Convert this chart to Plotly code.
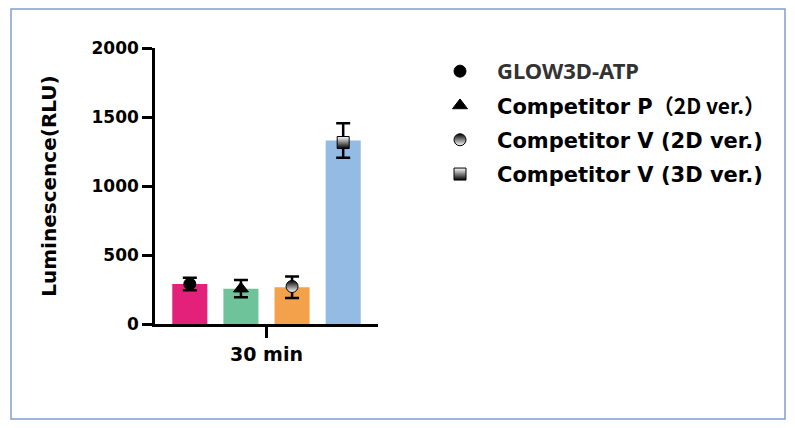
import plotly.graph_objects as go

categories = ["30 min"]
series_names = [
    "GLOW3D-ATP",
    "Competitor P（2D ver.）",
    "Competitor V (2D ver.)",
    "Competitor V (3D ver.)",
]
means = [290, 256, 266, 1330]
errors = [45, 63, 78, 125]
point_values = [290, 256, 272, 1315]
bar_colors = ["#E4217A", "#6EC39B", "#F4A14B", "#93BBE4"]
symbols = ["circle", "triangle-up", "circle", "square"]
y_ticks = [0, 500, 1000, 1500, 2000]

legend_labels = [
    '<span style="font-family:Noto Sans;font-size:22px;color:#333333">GLOW3D-ATP</span>',
    'Competitor P<span style="font-family:Noto Sans CJK SC;font-weight:bold;font-size:21px">（2D ver.）</span>',
    'Competitor V (2D ver.)',
    'Competitor V (3D ver.)',
]

FONT = "DejaVu Sans"
fig = go.Figure()

for i in range(4):
    fig.add_trace(go.Bar(
        x=categories, y=[means[i]],
        marker=dict(color=bar_colors[i], line=dict(width=0)),
        error_y=dict(type="data", array=[errors[i]], color="black", thickness=2.5, width=7),
        offsetgroup=str(i), alignmentgroup="a",
        showlegend=False, hoverinfo="skip",
    ))

for i in range(4):
    marker = dict(symbol=symbols[i], size=12 if i != 1 else 13, color="black",
                  line=dict(color="black", width=1))
    if i == 2:
        marker["color"] = "black"
        marker["gradient"] = dict(type="vertical", color="white")
    if i == 3:
        marker["color"] = "white"
        marker["gradient"] = dict(type="vertical", color="black")
    fig.add_trace(go.Scatter(
        x=categories, y=[point_values[i]], mode="markers",
        marker=marker, name=legend_labels[i],
        offsetgroup=str(i), alignmentgroup="a",
        legendgroup=str(i),
    ))

fig.update_layout(
    width=795, height=428,
    margin=dict(l=155, r=417, t=48, b=104, autoexpand=False),
    paper_bgcolor="white", plot_bgcolor="white",
    barmode="group", bargap=0.083, bargroupgap=0.314,
    scattermode="group", scattergap=0.083,
    font=dict(family=FONT, color="black"),
    showlegend=True,
    legend=dict(
        xref="container", yref="container",
        x=423/795, y=1 - 51/428, xanchor="left", yanchor="top",
        font=dict(family=FONT, size=21, color="black", weight="bold"),
        itemwidth=64, tracegroupgap=4, bgcolor="rgba(0,0,0,0)",
    ),
    shapes=[dict(
        type="rect", xref="paper", yref="paper",
        x0=(11 - 155) / 223, x1=(785 - 155) / 223,
        y0=(324 - 419) / 276, y1=(324 - 9) / 276,
        line=dict(color="#7F9FCB", width=1.5), fillcolor="rgba(0,0,0,0)", layer="below",
    )],
)

fig.update_yaxes(
    range=[0, 2000], tickvals=y_ticks, showline=True, linecolor="black", linewidth=2.5,
    ticks="outside", ticklen=10, tickwidth=2.5, tickcolor="black",
    tickfont=dict(family=FONT, size=17, weight="bold"),
    showgrid=False, zeroline=False,
    title=dict(text="Luminescence(RLU)", font=dict(family=FONT, size=20, weight="bold"), standoff=30),
)
fig.update_xaxes(
    showline=True, linecolor="black", linewidth=2.5,
    ticks="outside", ticklen=11, tickwidth=2.5, tickcolor="black",
    tickfont=dict(family=FONT, size=19, weight="bold"),
    showgrid=False,
)

fig.write_html("out.html", config={"displayModeBar": False},
               post_script="document.body.style.margin='0';")
